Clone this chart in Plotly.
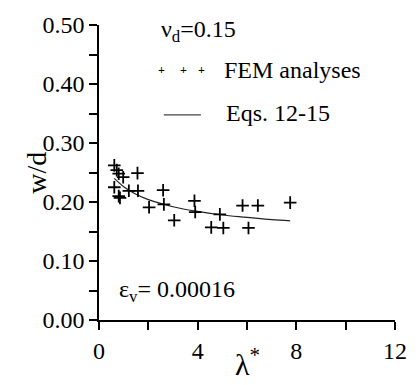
import plotly.graph_objects as go

# FEM analyses data points (lambda*, w/d)
fem_x = [0.62, 0.72, 0.80, 0.98, 1.56, 0.62, 0.80, 0.85, 1.21, 1.58, 2.60, 2.03,
         2.63, 3.05, 3.87, 3.90, 4.55, 5.04, 4.90, 5.82, 6.44, 6.06, 7.75]
fem_y = [0.262, 0.254, 0.248, 0.242, 0.249, 0.225, 0.210, 0.207, 0.219, 0.219, 0.220, 0.191,
         0.196, 0.169, 0.202, 0.183, 0.157, 0.156, 0.179, 0.194, 0.194, 0.156, 0.199]

# Eqs. 12-15 curve
eq_x = [0.62, 1.0, 1.5, 2.0, 3.0, 4.0, 5.0, 6.0, 7.0, 7.75]
eq_y = [0.240, 0.226, 0.213, 0.204, 0.192, 0.184, 0.178, 0.174, 0.170, 0.168]

x_ticks = [0, 4, 8, 12]
y_ticks = [0.0, 0.1, 0.2, 0.3, 0.4, 0.5]
y_labels = ["0.00", "0.10", "0.20", "0.30", "0.40", "0.50"]

FONT = "Liberation Serif"

fig = go.Figure()
fig.add_trace(go.Scatter(x=eq_x, y=eq_y, mode="lines",
                         line=dict(color="#222", width=1.2, shape="spline"),
                         showlegend=False, cliponaxis=False))
fig.add_trace(go.Scatter(x=fem_x, y=fem_y, mode="markers",
                         marker=dict(symbol="cross-thin", size=9,
                                     line=dict(color="black", width=1.8)),
                         showlegend=False, cliponaxis=False))

fig.update_xaxes(range=[0, 12], tickvals=x_ticks, ticktext=[str(v) for v in x_ticks],
                 showline=True, linecolor="black", linewidth=1.5,
                 ticks="outside", ticklen=8, tickwidth=1.5, tickcolor="black",
                 showgrid=False, zeroline=False,
                 tickfont=dict(family=FONT, size=24, color="black"),
                 minor=dict(dtick=2, ticklen=8, tickwidth=1.5, tickcolor="black", ticks="outside"))
fig.update_yaxes(range=[0, 0.5], tickvals=y_ticks, ticktext=y_labels,
                 showline=True, linecolor="black", linewidth=1.5,
                 ticks="outside", ticklen=8, tickwidth=1.5, tickcolor="black",
                 showgrid=False, zeroline=False,
                 tickfont=dict(family=FONT, size=24, color="black"),
                 minor=dict(dtick=0.05, ticklen=8, tickwidth=1.5, tickcolor="black", ticks="outside"))

def ann(x, y, text, size=24, **kw):
    d = dict(x=x, y=y, xref="x", yref="y", text=text, xanchor="left", yanchor="middle",
             showarrow=False, font=dict(family=FONT, size=size, color="black"))
    d.update(kw)
    return d

annotations = [
    ann(2.43, 0.489, "ν<sub>d</sub>=0.15"),
    ann((225 - 98.7) / 25.25, 0.423, "FEM analyses"),
    ann((226.5 - 98.7) / 25.25, 0.351, "Eqs. 12-15"),
    ann(0.72, 0.049, "ε<sub>v</sub>= 0.00016"),
    ann(6.0, -0.141, "λ<sup>*</sup>", size=30, yref="paper", xanchor="center"),
    ann(-0.211, 0.498, "w/d", size=28, xref="paper", yref="paper", xanchor="center", textangle=-90),
]
for px in [162.7, 185.0, 204.0]:
    annotations.append(ann((px - 98.7) / 25.25, (320 - 61.7) / 610, "<b>+</b>", size=12,
                           xanchor="center"))

fig.update_layout(
    width=419, height=385,
    margin=dict(l=99, r=18, t=15, b=65),
    plot_bgcolor="white", paper_bgcolor="white",
    font=dict(family=FONT, color="black"),
    annotations=annotations,
    shapes=[dict(type="line", xref="x", yref="y",
                 x0=(165 - 98.7) / 25.25, x1=(203 - 98.7) / 25.25,
                 y0=(320 - 108) / 610, y1=(320 - 108) / 610,
                 line=dict(color="#444", width=1.2))],
)

fig.write_html("out.html")
